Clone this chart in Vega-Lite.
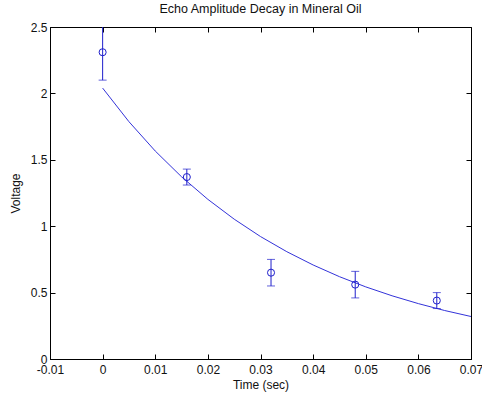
{
  "$schema": "https://vega.github.io/schema/vega-lite/v6.json",
  "width": 421,
  "height": 332,
  "autosize": "none",
  "padding": {"left": 50, "top": 27, "right": 11, "bottom": 42},
  "background": "white",
  "title": {"text": "Echo Amplitude Decay in Mineral Oil", "font": "Liberation Sans", "fontSize": 12.5, "fontWeight": "normal", "color": "#111111", "offset": 6, "anchor": "middle"},
  "config": {
    "view": {"stroke": "#000000", "strokeWidth": 1},
    "axis": {"grid": false, "labelFlush": false, "labelOverlap": false, "domainColor": "#000000", "tickColor": "#000000", "tickSize": -5, "labelFont": "Liberation Sans", "labelFontSize": 12, "labelColor": "#111111", "titleFont": "Liberation Sans", "titleFontSize": 12, "titleFontWeight": "normal", "titleColor": "#111111"}
  },
  "datasets": {
    "pts": [
      {"t": 0.0, "v": 2.31, "lo": 2.1, "hi": 2.53},
      {"t": 0.016, "v": 1.37, "lo": 1.31, "hi": 1.43},
      {"t": 0.032, "v": 0.65, "lo": 0.55, "hi": 0.75},
      {"t": 0.048, "v": 0.56, "lo": 0.46, "hi": 0.66},
      {"t": 0.0635, "v": 0.44, "lo": 0.38, "hi": 0.50}
    ],
    "fit": [
      {"t": 0.0, "v": 2.04}, {"t": 0.005, "v": 1.787}, {"t": 0.01, "v": 1.566}, {"t": 0.015, "v": 1.372},
      {"t": 0.02, "v": 1.202}, {"t": 0.025, "v": 1.053}, {"t": 0.03, "v": 0.922}, {"t": 0.035, "v": 0.808},
      {"t": 0.04, "v": 0.708}, {"t": 0.045, "v": 0.62}, {"t": 0.05, "v": 0.543}, {"t": 0.055, "v": 0.476},
      {"t": 0.06, "v": 0.417}, {"t": 0.065, "v": 0.365}, {"t": 0.07, "v": 0.32}
    ]
  },
  "layer": [
    {
      "data": {"name": "fit"},
      "mark": {"type": "line", "color": "#3333d9", "strokeWidth": 1, "clip": true},
      "encoding": {
        "x": {"field": "t", "type": "quantitative", "scale": {"domain": [-0.01, 0.07], "nice": false, "zero": false},
              "axis": {"orient": "bottom", "title": "Time (sec)", "values": [-0.01, 0, 0.01, 0.02, 0.03, 0.04, 0.05, 0.06, 0.07], "labelExpr": "'' + round(datum.value*100)/100", "labelPadding": 10, "titlePadding": 4}},
        "y": {"field": "v", "type": "quantitative", "scale": {"domain": [0, 2.5], "nice": false, "zero": false},
              "axis": {"orient": "left", "title": "Voltage", "values": [0, 0.5, 1, 1.5, 2, 2.5], "format": "~g", "labelPadding": 8, "titlePadding": 8}}
      }
    },
    {
      "data": {"name": "pts"},
      "mark": {"type": "rule", "color": "#1f1fcc", "strokeWidth": 1, "clip": true},
      "encoding": {
        "x": {"field": "t", "type": "quantitative", "scale": {"domain": [-0.01, 0.07], "nice": false, "zero": false},
              "axis": {"orient": "top", "title": null, "labels": false, "domain": false, "values": [-0.01, 0, 0.01, 0.02, 0.03, 0.04, 0.05, 0.06, 0.07]}},
        "y": {"field": "lo", "type": "quantitative", "scale": {"domain": [0, 2.5], "nice": false, "zero": false},
              "axis": {"orient": "right", "title": null, "labels": false, "domain": false, "values": [0, 0.5, 1, 1.5, 2, 2.5]}},
        "y2": {"field": "hi"}
      }
    },
    {
      "data": {"name": "pts"},
      "mark": {"type": "tick", "orient": "horizontal", "color": "#1f1fcc", "thickness": 1, "size": 8, "clip": true},
      "encoding": {
        "x": {"field": "t", "type": "quantitative", "scale": {"domain": [-0.01, 0.07], "nice": false, "zero": false}, "axis": null},
        "y": {"field": "lo", "type": "quantitative", "scale": {"domain": [0, 2.5], "nice": false, "zero": false}, "axis": null}
      }
    },
    {
      "data": {"name": "pts"},
      "mark": {"type": "tick", "orient": "horizontal", "color": "#1f1fcc", "thickness": 1, "size": 8, "clip": true},
      "encoding": {
        "x": {"field": "t", "type": "quantitative", "scale": {"domain": [-0.01, 0.07], "nice": false, "zero": false}, "axis": null},
        "y": {"field": "hi", "type": "quantitative", "scale": {"domain": [0, 2.5], "nice": false, "zero": false}, "axis": null}
      }
    },
    {
      "data": {"name": "pts"},
      "mark": {"type": "point", "shape": "circle", "filled": false, "color": "#1f1fcc", "strokeWidth": 1, "size": 50, "opacity": 1},
      "encoding": {
        "x": {"field": "t", "type": "quantitative", "scale": {"domain": [-0.01, 0.07], "nice": false, "zero": false}, "axis": null},
        "y": {"field": "v", "type": "quantitative", "scale": {"domain": [0, 2.5], "nice": false, "zero": false}, "axis": null}
      }
    }
  ],
  "resolve": {"axis": {"x": "independent", "y": "independent"}}
}
